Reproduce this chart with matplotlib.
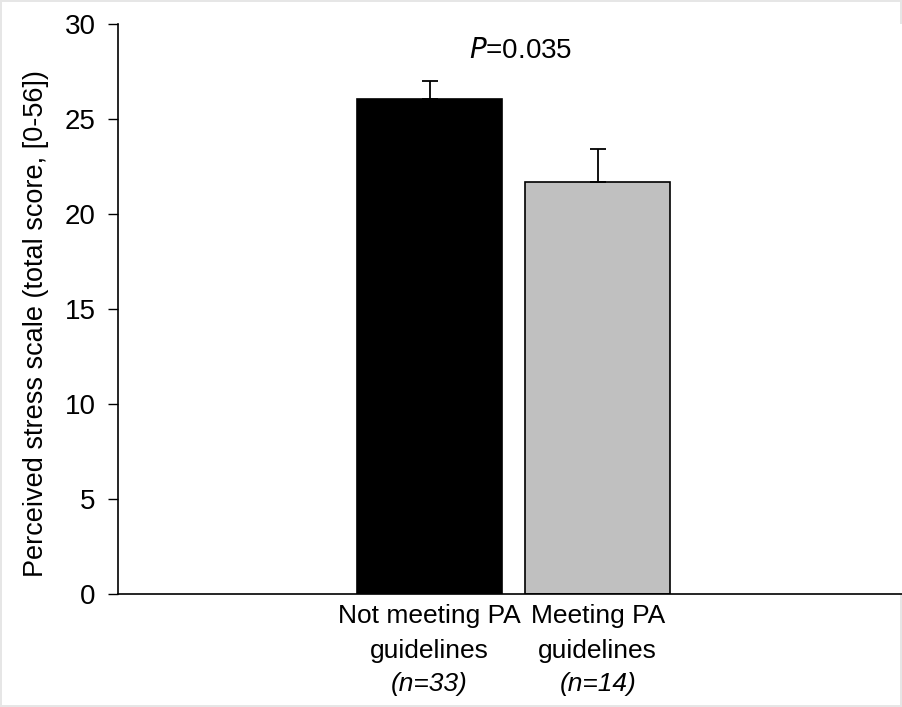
import matplotlib.pyplot as plt

plt.rcParams['font.family'] = ['Liberation Sans', 'DejaVu Sans']

# data
groups = ['Not meeting PA\nguidelines', 'Meeting PA\nguidelines']
n_labels = ['(n=33)', '(n=14)']
means = [26.05, 21.7]
sem = [0.95, 1.7]
colors = ['#000000', '#c0c0c0']
yticks = [0, 5, 10, 15, 20, 25, 30]
p_text = '$\\it{P}$=0.035'

fig = plt.figure(figsize=(9.02, 7.07), dpi=100)
fig.patch.set_edgecolor('#e6e6e6')
fig.patch.set_linewidth(1.5)
ax = fig.add_axes([0.1308, 0.1598, 0.8692, 0.8062])

x = list(range(len(groups)))
ax.bar(x, means, width=0.86, color=colors, edgecolor='black', linewidth=1.2, zorder=2)
ax.errorbar(x, means, yerr=[[0, 0], sem], fmt='none', ecolor='black',
            elinewidth=1.3, capsize=6, capthick=1.3, zorder=3)

ax.set_xlim(-1.854, 2.81)
ax.set_ylim(0, 30)
ax.set_yticks(yticks)
ax.tick_params(axis='y', labelsize=20, length=7, width=1, direction='out', pad=9)
ax.set_xticks(x)
ax.set_xticklabels(groups, fontsize=19, linespacing=1.58)
ax.tick_params(axis='x', length=0, pad=7)

# italic sample sizes under each label
for xi, lab in zip(x, n_labels):
    ax.annotate(lab, xy=(xi, 0), xycoords=('data', 'axes fraction'),
                xytext=(0, -70), textcoords='offset points',
                ha='center', va='baseline', fontsize=19, style='italic')

ax.spines['top'].set_visible(False)
ax.spines['right'].set_visible(False)
ax.spines['left'].set_linewidth(1.2)
ax.spines['bottom'].set_linewidth(1.2)

ax.set_ylabel('Perceived stress scale (total score, [0-56])', fontsize=19.5)
ax.yaxis.set_label_coords(-0.088, 0.474)
ax.text(0.54, 28.6, p_text, ha='center', va='center', fontsize=20)

plt.savefig('out.png', dpi=100)
